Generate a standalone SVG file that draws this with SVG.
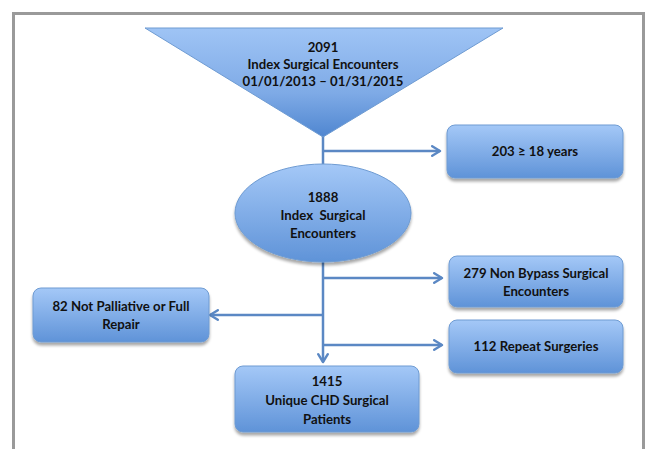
<svg xmlns="http://www.w3.org/2000/svg" width="647" height="449" viewBox="0 0 647 449">
<defs>
<linearGradient id="g" x1="0" y1="0" x2="0" y2="1">
<stop offset="0" stop-color="#a4c8f7"/>
<stop offset="1" stop-color="#5f93d8"/>
</linearGradient>
<linearGradient id="gt" x1="0" y1="0" x2="0" y2="1">
<stop offset="0" stop-color="#9fc4f5"/>
<stop offset="0.6" stop-color="#7eaae6"/>
<stop offset="1" stop-color="#4f86d0"/>
</linearGradient>
<filter id="sh" x="-10%" y="-10%" width="120%" height="130%">
<feGaussianBlur in="SourceAlpha" stdDeviation="1.5"/>
<feOffset dx="0" dy="2.5" result="b"/>
<feComponentTransfer><feFuncA type="linear" slope="0.35"/></feComponentTransfer>
<feMerge><feMergeNode/><feMergeNode in="SourceGraphic"/></feMerge>
</filter>
<marker id="ah" viewBox="0 0 10 10" refX="8.5" refY="5" markerWidth="12" markerHeight="12" orient="auto" markerUnits="userSpaceOnUse">
<path d="M2,1 L8.5,5 L2,9" fill="none" stroke="#5b88c4" stroke-width="2" stroke-linecap="round" stroke-linejoin="round"/>
</marker>
<style>
.n{fill:url(#g);stroke:#6e9bd2;stroke-width:1;filter:url(#sh)}
.t{font-family:Lato,"Open Sans","Liberation Sans",sans-serif;font-weight:bold;font-size:13.2px;fill:#111;text-anchor:middle}
.c{fill:none;stroke:#5b88c4;stroke-width:2.5}
</style>
</defs>
<rect x="0" y="0" width="647" height="449" fill="#fff"/>
<path d="M13.5,452 V13.5 H643.5 V452" fill="none" stroke="#9a9a9a" stroke-width="3"/>
<g id="connectors">
<line class="c" x1="323" y1="136" x2="323" y2="164"/>
<line class="c" x1="323" y1="151" x2="440" y2="151" marker-end="url(#ah)"/>
<line class="c" x1="323" y1="262" x2="323" y2="362" marker-end="url(#ah)"/>
<line class="c" x1="323" y1="278" x2="442" y2="278" marker-end="url(#ah)"/>
<line class="c" x1="323" y1="315" x2="210" y2="315" marker-end="url(#ah)"/>
<line class="c" x1="323" y1="345" x2="442" y2="345" marker-end="url(#ah)"/>
</g>
<g id="n2091">
<path d="M145,28 H503 L323,137 Z" fill="url(#gt)" stroke="#6e9bd2" stroke-width="1"/>
<text class="t" x="323" y="52">2091</text>
<text class="t" x="323" y="69">Index Surgical Encounters</text>
<text class="t" x="323" y="86">01/01/2013 – 01/31/2015</text>
</g>
<g id="n203">
<rect class="n" x="447" y="125" width="176" height="53" rx="8"/>
<text class="t" x="535" y="156">203 ≥ 18 years</text>
</g>
<g id="n1888">
<ellipse class="n" cx="323" cy="213" rx="88" ry="49"/>
<text class="t" x="323" y="202">1888</text>
<text class="t" x="323" y="220" xml:space="preserve">Index  Surgical</text>
<text class="t" x="323" y="238">Encounters</text>
</g>
<g id="n279">
<rect class="n" x="449" y="256" width="174" height="51" rx="8"/>
<text class="t" x="536" y="278">279 Non Bypass Surgical</text>
<text class="t" x="536" y="296">Encounters</text>
</g>
<g id="n82">
<rect class="n" x="33" y="288" width="176" height="54" rx="8"/>
<text class="t" x="121" y="311">82 Not Palliative or Full</text>
<text class="t" x="121" y="329">Repair</text>
</g>
<g id="n112">
<rect class="n" x="449" y="320" width="174" height="53" rx="8"/>
<text class="t" x="536" y="351">112 Repeat Surgeries</text>
</g>
<g id="n1415">
<rect class="n" x="235" y="366" width="184" height="66" rx="8"/>
<text class="t" x="327" y="386">1415</text>
<text class="t" x="327" y="405">Unique CHD Surgical</text>
<text class="t" x="327" y="424">Patients</text>
</g>
</svg>
